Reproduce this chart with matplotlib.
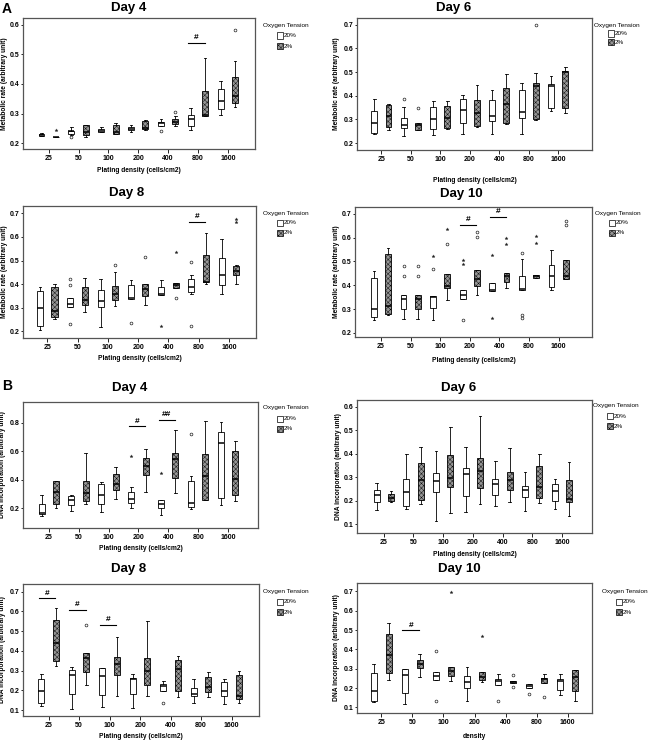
import matplotlib.pyplot as plt
import matplotlib.patches as mpatches
import numpy as np

plt.rcParams['font.family'] = ['Liberation Sans', 'DejaVu Sans']
plt.rcParams['hatch.linewidth'] = 0.3
plt.rcParams['hatch.color'] = '#dddddd'

densities = ['25', '50', '100', '200', '400', '800', '1600']
groups = ['20%', '2%']

# box stats per density: [whisker low, q1, median, q3, whisker high]
# (A) metabolic rate
a4_20 = [[0.223, 0.225, 0.228, 0.232, 0.233], [0.228, 0.231, 0.240, 0.242, 0.256],
         [0.237, 0.237, 0.240, 0.249, 0.256], [0.238, 0.243, 0.248, 0.254, 0.262],
         [0.257, 0.257, 0.268, 0.270, 0.283], [0.245, 0.258, 0.281, 0.295, 0.318],
         [0.296, 0.314, 0.343, 0.382, 0.410]]
a4_2 = [[0.219, 0.219, 0.220, 0.221, 0.222], [0.222, 0.229, 0.237, 0.262, 0.262],
        [0.232, 0.232, 0.238, 0.262, 0.268], [0.245, 0.248, 0.252, 0.276, 0.278],
        [0.258, 0.264, 0.272, 0.282, 0.290], [0.290, 0.291, 0.296, 0.377, 0.487],
        [0.322, 0.337, 0.358, 0.423, 0.478]]
a4_circles = [('20%', 1, 0.220), ('20%', 4, 0.242), ('2%', 4, 0.306), ('2%', 6, 0.583)]
a4_stars = [('2%', 0, 0.245)]
a4_sig = [(5, 0.540, '#')]

a6_20 = [[0.239, 0.242, 0.285, 0.334, 0.386], [0.228, 0.263, 0.275, 0.306, 0.352],
         [0.233, 0.259, 0.300, 0.352, 0.376], [0.237, 0.284, 0.341, 0.387, 0.403],
         [0.237, 0.292, 0.313, 0.383, 0.423], [0.240, 0.306, 0.330, 0.423, 0.453],
         [0.334, 0.348, 0.442, 0.450, 0.483]]
a6_2 = [[0.255, 0.266, 0.313, 0.362, 0.365], [0.255, 0.256, 0.275, 0.285, 0.285],
        [0.260, 0.263, 0.307, 0.355, 0.377], [0.270, 0.273, 0.327, 0.383, 0.444],
        [0.280, 0.285, 0.365, 0.432, 0.490], [0.298, 0.302, 0.440, 0.453, 0.494],
        [0.327, 0.348, 0.500, 0.503, 0.520]]
a6_circles = [('20%', 1, 0.385), ('2%', 1, 0.348), ('2%', 5, 0.700)]
a6_stars = []
a6_sig = []

a8_20 = [[0.205, 0.224, 0.301, 0.369, 0.390], [0.303, 0.303, 0.317, 0.341, 0.341],
         [0.220, 0.303, 0.330, 0.376, 0.422], [0.337, 0.337, 0.343, 0.397, 0.416],
         [0.353, 0.353, 0.360, 0.387, 0.417], [0.357, 0.366, 0.390, 0.421, 0.437],
         [0.360, 0.397, 0.440, 0.510, 0.593]]
a8_2 = [[0.252, 0.261, 0.288, 0.387, 0.402], [0.283, 0.313, 0.335, 0.390, 0.425],
        [0.308, 0.331, 0.357, 0.393, 0.453], [0.313, 0.348, 0.378, 0.400, 0.400],
        [0.383, 0.383, 0.398, 0.405, 0.405], [0.400, 0.411, 0.411, 0.524, 0.615],
        [0.402, 0.439, 0.455, 0.477, 0.480]]
a8_circles = [('20%', 1, 0.420), ('20%', 1, 0.397), ('20%', 1, 0.232), ('20%', 3, 0.235),
              ('20%', 5, 0.492), ('20%', 5, 0.222), ('2%', 2, 0.481), ('2%', 3, 0.513),
              ('2%', 4, 0.341)]
a8_stars = [('20%', 4, 0.222), ('2%', 4, 0.537), ('2%', 6, 0.662), ('2%', 6, 0.678)]
a8_sig = [(5, 0.665, '#')]

a10_20 = [[0.253, 0.267, 0.300, 0.432, 0.460], [0.258, 0.302, 0.342, 0.358, 0.358],
          [0.253, 0.306, 0.350, 0.353, 0.353], [0.344, 0.344, 0.358, 0.379, 0.379],
          [0.375, 0.375, 0.378, 0.410, 0.410], [0.382, 0.382, 0.385, 0.437, 0.511],
          [0.382, 0.393, 0.437, 0.484, 0.546]]
a10_2 = [[0.277, 0.281, 0.313, 0.532, 0.557], [0.258, 0.302, 0.342, 0.358, 0.358],
         [0.337, 0.390, 0.395, 0.449, 0.449], [0.358, 0.395, 0.428, 0.465, 0.465],
         [0.390, 0.414, 0.440, 0.451, 0.451], [0.430, 0.432, 0.437, 0.442, 0.442],
         [0.425, 0.428, 0.440, 0.507, 0.507]]
a10_circles = [('20%', 1, 0.480), ('20%', 1, 0.440), ('20%', 2, 0.470), ('20%', 3, 0.253),
               ('20%', 5, 0.537), ('20%', 5, 0.274), ('20%', 5, 0.264),
               ('2%', 1, 0.480), ('2%', 1, 0.440), ('2%', 2, 0.573), ('2%', 3, 0.623),
               ('2%', 3, 0.602), ('2%', 6, 0.668), ('2%', 6, 0.651)]
a10_stars = [('20%', 2, 0.523), ('20%', 3, 0.507), ('20%', 3, 0.490), ('20%', 4, 0.525),
             ('20%', 4, 0.264), ('2%', 2, 0.635), ('2%', 4, 0.600), ('2%', 4, 0.571),
             ('2%', 5, 0.606), ('2%', 5, 0.577)]
a10_sig = [(3, 0.654, '#'), (4, 0.686, '#')]

# (B) DNA incorporation
b4_20 = [[0.141, 0.158, 0.165, 0.228, 0.290], [0.181, 0.224, 0.260, 0.282, 0.290],
         [0.172, 0.228, 0.289, 0.369, 0.385], [0.200, 0.235, 0.264, 0.311, 0.345],
         [0.153, 0.200, 0.228, 0.259, 0.259], [0.190, 0.205, 0.235, 0.388, 0.424],
         [0.224, 0.270, 0.659, 0.734, 0.805]]
b4_2 = [[0.200, 0.228, 0.315, 0.388, 0.388], [0.228, 0.252, 0.306, 0.388, 0.588],
        [0.264, 0.329, 0.369, 0.440, 0.487], [0.311, 0.435, 0.494, 0.553, 0.619],
        [0.306, 0.412, 0.546, 0.588, 0.748], [0.255, 0.259, 0.428, 0.581, 0.812],
        [0.252, 0.289, 0.405, 0.600, 0.675]]
b4_circles = [('20%', 5, 0.722)]
b4_stars = [('20%', 3, 0.565), ('20%', 4, 0.445)]
b4_sig = [(3, 0.776, '#'), (4, 0.823, '##')]

b6_20 = [[0.161, 0.192, 0.222, 0.246, 0.274], [0.165, 0.175, 0.236, 0.293, 0.397],
         [0.111, 0.235, 0.284, 0.317, 0.409], [0.151, 0.220, 0.312, 0.338, 0.427],
         [0.178, 0.222, 0.270, 0.291, 0.368], [0.157, 0.215, 0.243, 0.263, 0.320],
         [0.165, 0.199, 0.242, 0.271, 0.290]]
b6_2 = [[0.193, 0.200, 0.213, 0.227, 0.239], [0.185, 0.203, 0.288, 0.359, 0.430],
        [0.147, 0.256, 0.298, 0.395, 0.511], [0.185, 0.253, 0.327, 0.380, 0.562],
        [0.193, 0.243, 0.287, 0.321, 0.423], [0.190, 0.213, 0.256, 0.348, 0.397],
        [0.135, 0.193, 0.208, 0.286, 0.366]]
b6_circles = []
b6_stars = []
b6_sig = []

b8_20 = [[0.120, 0.137, 0.196, 0.260, 0.283], [0.108, 0.181, 0.277, 0.305, 0.320],
         [0.117, 0.176, 0.272, 0.315, 0.315], [0.110, 0.179, 0.257, 0.264, 0.283],
         [0.198, 0.198, 0.222, 0.230, 0.249], [0.137, 0.173, 0.181, 0.210, 0.260],
         [0.130, 0.173, 0.196, 0.240, 0.255]]
b8_2 = [[0.325, 0.348, 0.438, 0.559, 0.615], [0.227, 0.294, 0.362, 0.387, 0.390],
        [0.171, 0.277, 0.336, 0.370, 0.468], [0.172, 0.227, 0.298, 0.362, 0.551],
        [0.168, 0.196, 0.308, 0.353, 0.374], [0.168, 0.193, 0.218, 0.266, 0.291],
        [0.135, 0.154, 0.171, 0.277, 0.300]]
b8_circles = [('20%', 4, 0.137), ('2%', 1, 0.531)]
b8_stars = []
b8_sig = [(0, 0.666, '#'), (1, 0.607, '#'), (2, 0.531, '#')]

b10_20 = [[0.126, 0.134, 0.186, 0.278, 0.326], [0.119, 0.174, 0.265, 0.298, 0.298],
          [0.243, 0.243, 0.260, 0.281, 0.281], [0.134, 0.200, 0.229, 0.264, 0.309],
          [0.217, 0.217, 0.238, 0.247, 0.274], [0.200, 0.200, 0.212, 0.222, 0.222],
          [0.166, 0.191, 0.234, 0.247, 0.274]]
b10_2 = [[0.240, 0.278, 0.372, 0.479, 0.536], [0.255, 0.303, 0.324, 0.347, 0.378],
         [0.234, 0.260, 0.286, 0.309, 0.309], [0.229, 0.243, 0.255, 0.283, 0.283],
         [0.224, 0.224, 0.230, 0.234, 0.234], [0.226, 0.226, 0.247, 0.252, 0.274],
         [0.134, 0.183, 0.257, 0.295, 0.295]]
b10_circles = [('20%', 2, 0.393), ('20%', 2, 0.131), ('20%', 4, 0.131), ('20%', 5, 0.171),
               ('2%', 4, 0.266), ('2%', 4, 0.205), ('2%', 5, 0.153)]
b10_stars = [('2%', 2, 0.695), ('2%', 3, 0.467)]
b10_sig = [(1, 0.498, '#')]

W, H = 650, 742
fig = plt.figure(figsize=(W / 100, H / 100), dpi=100)


def fx(x):
    return x / W


def fy(y):
    return 1 - y / H


offs = {'20%': -0.24, '2%': 0.24}
face = {'20%': 'white', '2%': '#959595'}
hatch = {'20%': None, '2%': 'xxxxxxx'}


def panel(box, xlim, ylim, yticks, title, title_xy, ylabel, ylab_x, xlabel, xlab_y,
          leg_xy, s20, s2, circles, stars, sig):
    l, t, r, b = box
    ax = fig.add_axes([fx(l), fy(b), (r - l) / W, (b - t) / H])
    x = np.arange(len(densities))
    for g, stats in (('20%', s20), ('2%', s2)):
        st = [dict(whislo=s[0], q1=s[1], med=s[2], q3=s[3], whishi=s[4], fliers=[]) for s in stats]
        bp = ax.bxp(st, positions=x + offs[g], widths=0.2, patch_artist=True, showfliers=False,
                    capwidths=0.09,
                    boxprops=dict(facecolor=face[g], edgecolor='black', linewidth=0.6),
                    whiskerprops=dict(color='black', linewidth=0.6),
                    capprops=dict(color='black', linewidth=0.6),
                    medianprops=dict(color='black', linewidth=1.1))
        for p in bp['boxes']:
            if hatch[g]:
                p.set_hatch(hatch[g])
    for g, i, v in circles:
        ax.plot(i + offs[g], v, 'o', mfc='white', mec='#222222', ms=2.0, mew=0.5)
    for g, i, v in stars:
        ax.plot(i + offs[g], v, '*', color='#222222', ms=2.4, mew=0.2)
    for i, v, lab in sig:
        ax.plot([i - 0.32, i + 0.22], [v, v], color='black', lw=0.8)
        ax.text(i - 0.05, v + (ylim[1] - ylim[0]) * 0.012, lab, ha='center', va='bottom',
                fontsize=6, fontweight='bold')
    ax.set_xlim(*xlim)
    ax.set_ylim(*ylim)
    ax.set_xticks(x)
    ax.set_xticklabels(densities)
    ax.set_yticks(yticks)
    ax.set_yticklabels(['%.1f' % v for v in yticks])
    ax.tick_params(axis='x', length=3, width=0.6, labelsize=5, pad=1.5)
    ax.tick_params(axis='y', length=1.8, width=0.6, labelsize=5, pad=0.6)
    for lab in ax.get_xticklabels() + ax.get_yticklabels():
        lab.set_fontweight('bold')
    for sp in ax.spines.values():
        sp.set_color('#555555')
        sp.set_linewidth(0.9)
    fig.text(fx(title_xy[0]), fy(title_xy[1]), title, ha='center', va='center',
             fontsize=9.5, fontweight='bold')
    fig.text(fx(ylab_x), fy((t + b) / 2), ylabel, rotation=90, ha='center', va='center',
             fontsize=4.8, fontweight='bold')
    fig.text(fx((l + r) / 2), fy(xlab_y), xlabel, ha='center', va='center',
             fontsize=4.8, fontweight='bold')
    lx, ly, dy = leg_xy
    fig.text(fx(lx), fy(ly), 'Oxygen Tension', ha='left', va='center', fontsize=4.6)
    for k, g in enumerate(groups):
        yy = ly + dy * (k + 1)
        fig.add_artist(mpatches.Rectangle((fx(lx + 14), fy(yy + 3)), 6 / W, 6 / H,
                                          transform=fig.transFigure, facecolor=face[g],
                                          edgecolor='black', lw=0.5, hatch=hatch[g]))
        fig.text(fx(lx + 21), fy(yy), g, ha='left', va='center', fontsize=4.6)
    return ax


met = 'Metabolic rate (arbitrary unit)'
dna = 'DNA incorporation (arbitrary unit)'
pd_lab = 'Plating density (cells/cm2)'
t_met = [0.2, 0.3, 0.4, 0.5, 0.6, 0.7]

panel((23, 18, 255, 149), (-0.86, 6.91), (0.18, 0.623), t_met[:5], 'Day 4', (129, 8),
      met, 5, pd_lab, 171, (263, 25, 10.5), a4_20, a4_2, a4_circles, a4_stars, a4_sig)
panel((357, 18, 592, 150), (-0.83, 7.15), (0.171, 0.728), t_met, 'Day 6', (454, 8),
      met, 336, pd_lab, 180, (594, 25, 8.5), a6_20, a6_2, a6_circles, a6_stars, a6_sig)
panel((23, 206, 256, 338), (-0.80, 6.89), (0.172, 0.731), t_met, 'Day 8', (127, 193),
      met, 5, pd_lab, 358, (263, 213, 10), a8_20, a8_2, a8_circles, a8_stars, a8_sig)
panel((355, 207, 592, 337), (-0.88, 7.13), (0.183, 0.728), t_met, 'Day 10', (461, 194),
      met, 337, pd_lab, 360, (595, 213, 10), a10_20, a10_2, a10_circles, a10_stars, a10_sig)
panel((23, 402, 258, 528), (-0.86, 7.0), (0.059, 0.948), [0.2, 0.4, 0.6, 0.8], 'Day 4', (130, 388),
      dna, 3, pd_lab, 549, (263, 408, 10.5), b4_20, b4_2, b4_circles, b4_stars, b4_sig)
panel((357, 400, 592, 533), (-0.9, 7.01), (0.062, 0.628), [0.1, 0.2, 0.3, 0.4, 0.5, 0.6], 'Day 6', (459, 388),
      dna, 338, pd_lab, 554, (593, 406, 10), b6_20, b6_2, b6_circles, b6_stars, b6_sig)
panel((23, 584, 259, 716), (-0.84, 6.9), (0.07, 0.739), [0.1, 0.2, 0.3, 0.4, 0.5, 0.6, 0.7], 'Day 8', (129, 569),
      dna, 3, pd_lab, 737, (263, 591, 10.5), b8_20, b8_2, b8_circles, b8_stars, b8_sig)
panel((357, 583, 592, 713), (-0.78, 6.78), (0.071, 0.743), [0.1, 0.2, 0.3, 0.4, 0.5, 0.6, 0.7], 'Day 10', (459, 569),
      dna, 337, 'density', 736, (602, 591, 10.5), b10_20, b10_2, b10_circles, b10_stars, b10_sig)

fig.text(fx(2), fy(9), 'A', ha='left', va='center', fontsize=10, fontweight='bold')
fig.text(fx(2), fy(386), 'B', ha='left', va='center', fontsize=10, fontweight='bold')

fig.savefig('out.png', dpi=100)
